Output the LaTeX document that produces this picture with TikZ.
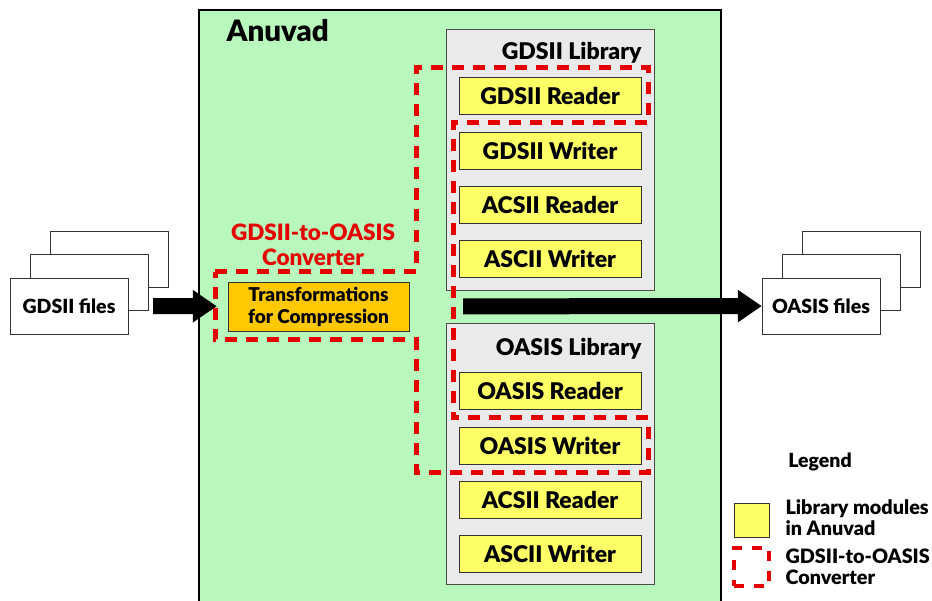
\documentclass[tikz,border=0pt]{standalone}
\usepackage{fontspec}
\setmainfont{Lato}[BoldFont={Lato Black}]
\usetikzlibrary{arrows.meta}

\definecolor{anuvadgreen}{RGB}{185,248,189}
\definecolor{libgrey}{RGB}{234,234,234}
\definecolor{modyellow}{RGB}{255,255,102}
\definecolor{transorange}{RGB}{255,200,0}
\definecolor{convred}{RGB}{228,0,0}

\tikzset{
	module/.style={draw=black!80, fill=modyellow, minimum width=182pt, minimum height=37pt, inner sep=0pt, font=\bfseries\fontsize{23}{24}\selectfont},
	library/.style={draw=black!70, fill=libgrey, minimum width=208pt, minimum height=261pt, anchor=north west},
	libtitle/.style={anchor=east, font=\bfseries\fontsize{23}{24}\selectfont},
	filebox/.style={draw=black!80, fill=white, minimum width=118pt, minimum height=56pt, inner sep=0pt, font=\bfseries\fontsize{19.5}{20}\selectfont},
	convpath/.style={draw=convred, line width=5pt, dash pattern=on 12pt off 9pt},
	bigarrow/.style={line width=16pt, -{Triangle[length=24pt,width=31pt]}},
	legendtext/.style={anchor=west, align=left, font=\bfseries\fontsize{19.8}{21}\selectfont},
}

\begin{document}
\begin{tikzpicture}[x=1pt,y=-1pt]
	\useasboundingbox (0,0) rectangle (932,601);
	% Anuvad box (open at the bottom)
	\fill[anuvadgreen] (199,10) rectangle (721,601);
	\draw[line width=1.2pt] (199,601) |- (721,10) -- (721,601);
	\node[anchor=west, font=\bfseries\fontsize{29.5}{30}\selectfont] (anuvad) at (223,31) {Anuvad};

	% libraries
	\node[library] (gdslib) at (446,29) {};
	\node[libtitle] at (645,53) {GDSII Library};
	\foreach \y/\name/\txt in {96/gdsrd/GDSII Reader, 150.5/gdswr/GDSII Writer, 204.5/gdsacr/ACSII Reader, 258.5/gdsasw/ASCII Writer}
	\node[module] (\name) at (550,\y) {\txt};
	\node[library] (oaslib) at (446,323) {};
	\node[libtitle] at (645,349) {OASIS Library};
	\foreach \y/\name/\txt in {391/oasrd/OASIS Reader, 445.5/oaswr/OASIS Writer, 499.5/oasacr/ACSII Reader, 553.5/oasasw/ASCII Writer}
	\node[module] (\name) at (550,\y) {\txt};

	% converter
	\node[draw=black!80, fill=transorange, minimum width=181pt, minimum height=49pt, inner sep=0pt, align=center, font=\bfseries\fontsize{19}{22}\selectfont] (trans) at (318.5,306.5) {Transformations\\for Compression};
	\node[text=convred, align=center, font=\bfseries\fontsize{22.5}{25}\selectfont] (convlabel) at (313,245) {GDSII-to-OASIS\\Converter};
	\draw[convpath] (215,272) -- (416,272) -- (416,68) -- (648,68) -- (648,123) -- (453,123) -- (453,418) -- (648,418) -- (648,472) -- (416,472) -- (416,340) -- (215,340) -- cycle;

	% input and output files
	\node[filebox] (gdsback) at (109,259) {};
	\node[filebox] (gdsmid) at (89,282) {};
	\node[filebox] (gdsfiles) at (69,306) {GDSII files};
	\node[filebox] (oasback) at (861,259) {};
	\node[filebox] (oasmid) at (841,282) {};
	\node[filebox] (oasfiles) at (821,306) {OASIS files};

	\draw[bigarrow, shorten <=25pt, shorten >=11pt] (gdsfiles) -- (trans);
	\draw[bigarrow, shorten <=54pt] (trans) -- (oasfiles);

	% legend
	\node[font=\bfseries\fontsize{19.5}{20}\selectfont] (legend) at (820,462) {Legend};
	\node[draw=black!80, fill=modyellow, minimum width=35pt, minimum height=34pt] (legmod) at (751.5,520) {};
	\node[legendtext] at (782,518) {Library modules\\in Anuvad};
	\node[convpath, line width=4pt, dash pattern=on 10pt off 10pt, minimum width=35pt, minimum height=38pt] (legconv) at (751.5,567) {};
	\node[legendtext] at (782,567) {GDSII-to-OASIS\\Converter};
\end{tikzpicture}
\end{document}
